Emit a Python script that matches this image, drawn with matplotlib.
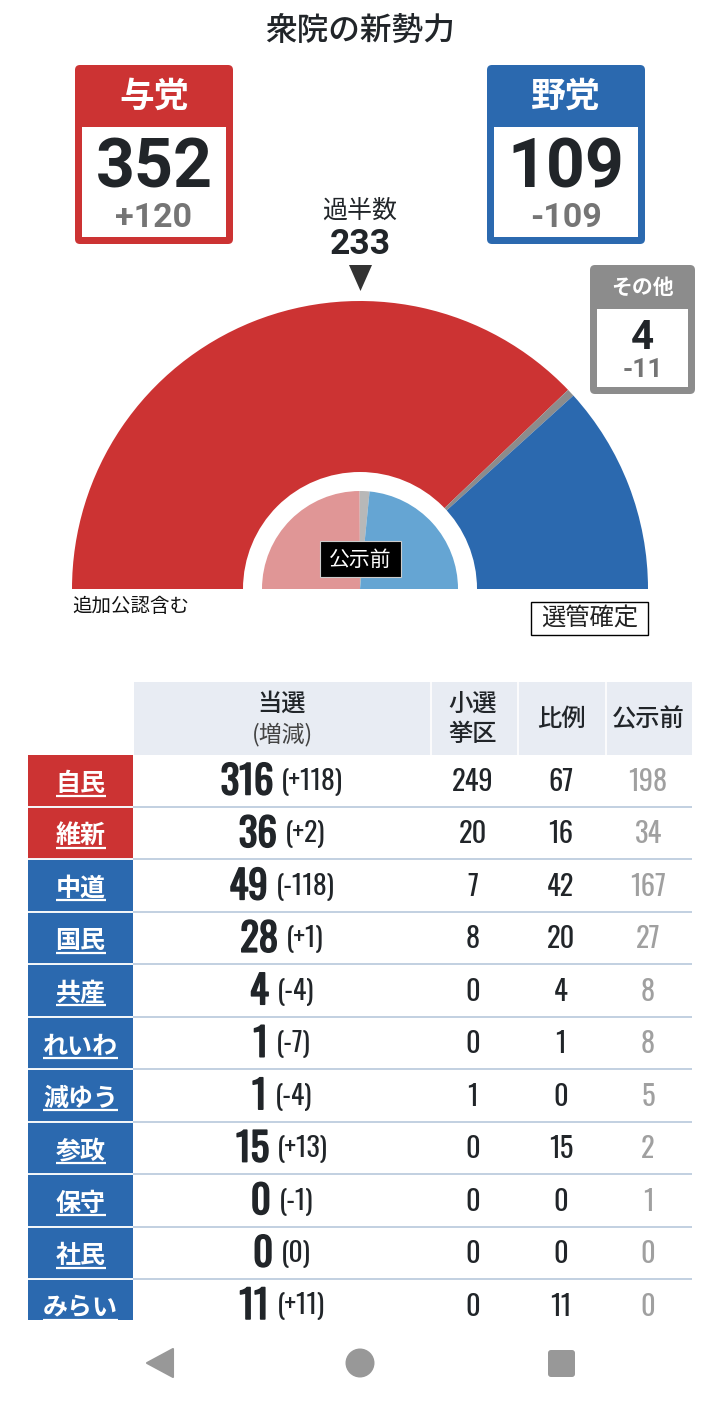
import matplotlib
matplotlib.use('Agg')
import matplotlib.pyplot as plt
from matplotlib.patches import Wedge, Rectangle, FancyBboxPatch, Polygon, Circle
import matplotlib.patheffects as pe
import numpy as np

plt.rcParams['font.family'] = ['Noto Sans CJK JP', 'DejaVu Sans']

# --- data ---
blocs = ['与党', 'その他', '野党']
seats_now = [352, 4, 109]
seats_before = [232, 15, 218]
majority = 233

parties = ['自民', '維新', '中道', '国民', '共産', 'れいわ', '減ゆう', '参政', '保守', '社民', 'みらい']
elected = [316, 36, 49, 28, 4, 1, 1, 15, 0, 0, 11]
change = [118, 2, -118, 1, -4, -7, -4, 13, -1, 0, 11]
district = [249, 20, 7, 8, 0, 0, 1, 0, 0, 0, 0]
pr_seats = [67, 16, 42, 20, 4, 1, 0, 15, 0, 0, 11]
before = [198, 34, 167, 27, 8, 8, 5, 2, 1, 0, 0]
party_side = ['gov', 'gov', 'opp', 'opp', 'opp', 'opp', 'opp', 'opp', 'opp', 'opp', 'opp']

# --- colours ---
RED = '#CC3333'
BLUE = '#2B69AF'
GRAY = '#8C8C8C'
DARK = '#212529'
MID = '#757575'
# condensed digits for the table, falls through to the CJK face if Oswald is missing
NUM = ['Oswald', 'Noto Sans CJK JP']
BOLD_NUM = ['Roboto', 'Noto Sans CJK JP']

# whole figure in pixel coordinates, y going down like the screenshot
fig = plt.figure(figsize=(7.2, 14.05), dpi=100)
ax = fig.add_axes([0, 0, 1, 1])
ax.set_xlim(0, 720)
ax.set_ylim(1405, 0)
ax.axis('off')


def half_donut(values, colors, r, cx=360, cy=589):
    edges = 180 + np.cumsum([0] + list(values)) / sum(values) * 180
    for i, c in enumerate(colors):
        ax.add_patch(Wedge((cx, cy), r, edges[i], edges[i + 1], fc=c, lw=0))


half_donut(seats_now, [RED, GRAY, BLUE], 288)
ax.add_patch(Wedge((360, 589), 117, 180, 360, fc='white', lw=0))
half_donut(seats_before, ['#E09696', '#B8B8B8', '#65A5D3'], 98)


def card(x0, y0, x1, y1, color, inset, head_h, title, big, small, sizes, ys):
    ax.add_patch(FancyBboxPatch((x0 + 5, y0 + 5), x1 - x0 - 10, y1 - y0 - 10,
                                boxstyle='round,pad=5,rounding_size=5', fc=color, lw=0))
    ax.add_patch(Rectangle((x0 + inset, y0 + head_h), x1 - x0 - 2 * inset,
                           y1 - y0 - head_h - inset, fc='white', lw=0))
    cx = (x0 + x1) / 2
    ax.text(cx, ys[0], title, color='white', fontsize=sizes[0], weight='bold', ha='center', va='center')
    ax.text(cx, ys[1], str(big), color=DARK, fontsize=sizes[1], weight='bold', family=BOLD_NUM, ha='center', va='center')
    ax.text(cx, ys[2], f'{small:+d}', color=MID, fontsize=sizes[2], weight='bold', family=BOLD_NUM, ha='center', va='center')


card(75, 65, 233, 244, RED, 7, 62, blocs[0], seats_now[0], seats_now[0] - seats_before[0], (25, 49, 24.5), (96, 169, 218))
card(487, 65, 645, 244, BLUE, 7, 62, blocs[2], seats_now[2], seats_now[2] - seats_before[2], (25, 49, 24.5), (96, 169, 218))
card(590, 265, 695, 394, GRAY, 7, 44, blocs[1], seats_now[1], seats_now[1] - seats_before[1], (15, 29, 19), (287, 338, 370))

ax.text(360, 31, '衆院の新勢力', color=DARK, fontsize=22.8, weight='medium', ha='center', va='center')
ax.text(360, 211, '過半数', color=DARK, fontsize=18, ha='center', va='center')
ax.text(360, 244, str(majority), color=DARK, fontsize=25.5, weight='bold', family=BOLD_NUM, ha='center', va='center')
ax.add_patch(Polygon([(349, 265), (372, 265), (360.5, 291)], fc='#333333', lw=0))

ax.add_patch(Rectangle((320, 541), 81, 36, fc='black', ec='#CCCCCC', lw=0.8))
ax.text(360.5, 560, '公示前', color='white', fontsize=15, ha='center', va='center')
ax.text(72, 606, '追加公認含む', color='#111111', fontsize=14, ha='left', va='center')
ax.add_patch(Rectangle((531, 602), 117, 33, fc='white', ec='black', lw=1))
ax.text(589.5, 619, '選管確定', color='#222222', fontsize=17.5, ha='center', va='center')

# --- table ---
col_x = [282, 473, 561, 648]
ax.add_patch(Rectangle((134, 682), 558, 73, fc='#E8ECF3', lw=0))
for x in [430.5, 517.5, 605.5]:
    ax.plot([x, x], [682, 755], color='white', lw=1.2)

ax.text(col_x[0], 704, '当選', color=DARK, fontsize=17.5, weight='medium', ha='center', va='center')
ax.text(col_x[0], 734, '(増減)', color='#444444', fontsize=16.5, ha='center', va='center')
ax.text(col_x[1], 704, '小選', color=DARK, fontsize=17.5, weight='medium', ha='center', va='center')
ax.text(col_x[1], 734, '挙区', color=DARK, fontsize=17.5, weight='medium', ha='center', va='center')
ax.text(col_x[2], 719, '比例', color=DARK, fontsize=17.5, weight='medium', ha='center', va='center')
ax.text(col_x[3], 719, '公示前', color=DARK, fontsize=17.5, weight='medium', ha='center', va='center')

clip = Rectangle((0, 0), 720, 1321, transform=ax.transData)
row_h = 52.45
top = 755
renderer = fig.canvas.get_renderer()
# Oswald only comes as one weight here, so the big numbers get a thin stroke
fake_bold = [pe.withStroke(linewidth=1.1, foreground=DARK)]
for i, name in enumerate(parties):
    y0 = top + i * row_h
    y1 = min(y0 + row_h, 1321)
    cy = y0 + 26
    ax.add_patch(Rectangle((28, y0), 105, y1 - y0 - 1, fc=RED if party_side[i] == 'gov' else BLUE, lw=0))
    if i < len(parties) - 1:
        ax.plot([28, 692], [y0 + row_h - 0.5] * 2, color='#B8C8DC', lw=1.2, solid_capstyle='butt')
        ax.plot([28, 133], [y0 + row_h - 0.5] * 2, color='white', lw=1.2, solid_capstyle='butt')
    label = ax.text(80.5, cy + 3, name, color='white', fontsize=18, weight='bold', ha='center', va='center')
    w = label.get_window_extent(renderer).width
    ax.plot([80.5 - w / 2, 80.5 + w / 2], [y0 + 40.5] * 2, color='white', lw=1.6, solid_capstyle='butt')

    # big number and change sit side by side, centred together on the column
    big = ax.text(0, cy + 1, str(elected[i]), color=DARK, fontsize=28, family=NUM, ha='left', va='center',
                  path_effects=fake_bold)
    delta = f'({change[i]:+d})' if change[i] != 0 else '(0)'
    small = ax.text(0, cy + 1, delta, color=DARK, fontsize=20, family=NUM, ha='left', va='center')
    bw = big.get_window_extent(renderer).width
    sw = small.get_window_extent(renderer).width
    left = col_x[0] - (bw + 8 + sw) / 2
    big.set_x(left)
    small.set_x(left + bw + 8)
    row_texts = [big, small]
    for x, v, c in zip(col_x[1:], [district[i], pr_seats[i], before[i]], [DARK, DARK, '#A0A0A0']):
        row_texts.append(ax.text(x, cy + 1, str(v), color=c, fontsize=20.5, family=NUM, ha='center', va='center'))
    for t in row_texts:
        t.set_clip_path(clip)
        t.set_clip_on(True)

# --- android nav bar ---
NAV = '#989898'
ax.add_patch(Polygon([(173, 1349), (173, 1377), (147, 1363)], fc=NAV, ec=NAV, lw=1.5, joinstyle='round'))
ax.add_patch(Circle((360, 1363), 14.5, fc=NAV, lw=0))
ax.add_patch(FancyBboxPatch((550, 1352), 23, 23, boxstyle='round,pad=2,rounding_size=3', fc=NAV, lw=0))

fig.savefig('out.png', dpi=100, facecolor='white')
